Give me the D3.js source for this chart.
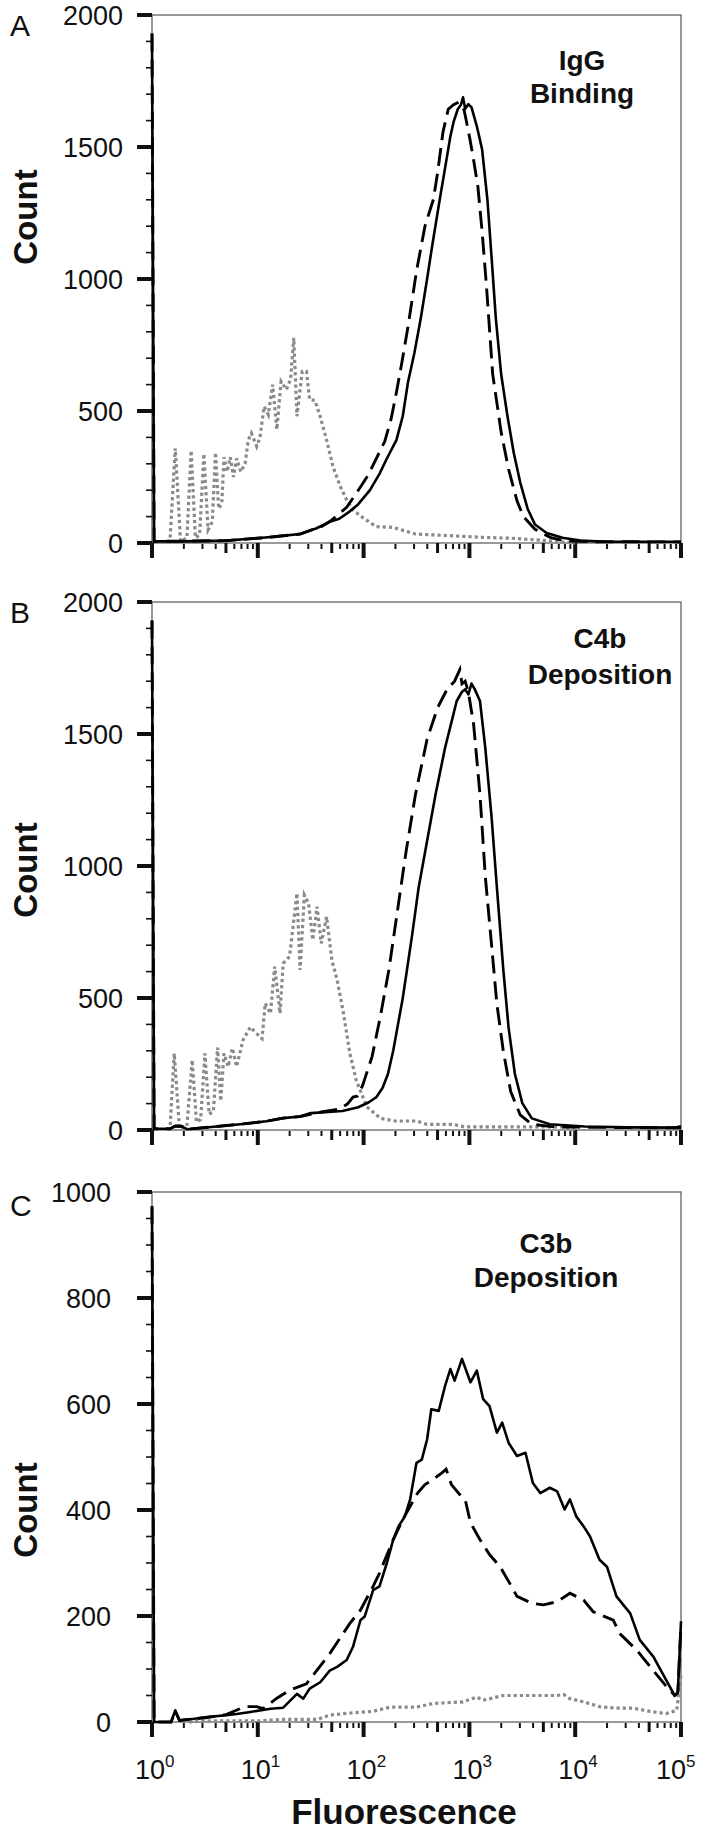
<!DOCTYPE html>
<html><head><meta charset="utf-8">
<script src="https://cdn.jsdelivr.net/npm/d3@7/dist/d3.min.js"></script>
<style>
body{margin:0;background:#fff}
svg{display:block}
text{font-family:"Liberation Sans",Arial,Helvetica,sans-serif;fill:#111}
</style>
</head><body>
<svg id="chart" width="704" height="1832"></svg>
<script>
// ---------- DATA (x = log10 fluorescence, y = count) ----------
const xDecades = [0, 1, 2, 3, 4, 5];
const yTicksAB = [0, 500, 1000, 1500, 2000];
const yTicksC = [0, 200, 400, 600, 800, 1000];
const panelLetters = ["A", "B", "C"];
const panelNotes = [["IgG", "Binding"], ["C4b", "Deposition"], ["C3b", "Deposition"]];

const aSolid = [[0,1930],[0.02,6],[0.3,6],[0.7,9],[1.07,21],[1.25,28],[1.40,34],[1.55,55],[1.68,80],[1.77,92],[1.87,120],[1.95,147],[2.06,200],[2.15,262],[2.22,320],[2.31,390],[2.37,480],[2.42,610],[2.48,720],[2.54,850],[2.60,1000],[2.65,1130],[2.72,1302],[2.77,1420],[2.82,1540],[2.85,1594],[2.89,1643],[2.92,1660],[2.94,1688],[2.96,1645],[2.99,1662],[3.02,1650],[3.07,1579],[3.12,1491],[3.17,1302],[3.21,1080],[3.25,850],[3.30,640],[3.36,480],[3.42,340],[3.48,230],[3.55,130],[3.62,70],[3.73,38],[3.88,20],[4.05,9],[4.3,5],[5.0,5]];
const aDashed = [[0,1930],[0.02,6],[0.7,9],[1.07,20],[1.40,34],[1.60,62],[1.69,84],[1.84,135],[1.95,200],[2.04,255],[2.12,320],[2.20,385],[2.26,470],[2.31,570],[2.36,680],[2.42,820],[2.50,1030],[2.58,1200],[2.66,1302],[2.70,1404],[2.75,1556],[2.80,1643],[2.85,1660],[2.90,1670],[2.95,1640],[3.00,1541],[3.04,1450],[3.08,1351],[3.12,1180],[3.16,980],[3.22,640],[3.30,420],[3.37,280],[3.45,160],[3.51,100],[3.62,52],[3.77,20],[3.9,8],[4.2,5],[5.0,4]];
const aDotted = [[0.15,0],[0.17,11],[0.22,359],[0.27,5],[0.33,20],[0.37,350],[0.41,20],[0.45,30],[0.49,338],[0.53,50],[0.57,80],[0.60,343],[0.63,130],[0.66,150],[0.68,325],[0.71,270],[0.74,325],[0.77,250],[0.80,320],[0.84,270],[0.88,300],[0.91,390],[0.94,416],[0.99,366],[1.02,400],[1.06,517],[1.10,486],[1.14,600],[1.18,430],[1.22,612],[1.27,581],[1.31,620],[1.34,777],[1.37,480],[1.42,650],[1.46,650],[1.49,543],[1.54,540],[1.59,479],[1.65,391],[1.71,290],[1.78,214],[1.84,163],[1.90,125],[2.00,94],[2.12,62],[2.28,59],[2.49,34],[2.8,28],[3.15,21],[3.4,18],[3.73,9],[3.9,3],[4.0,0]];

const bSolid = [[0,1930],[0.02,5],[0.17,5],[0.22,15],[0.28,14],[0.33,3],[0.61,13],[0.86,23],[1.08,33],[1.24,45],[1.40,51],[1.50,64],[1.80,72],[1.95,86],[2.05,105],[2.12,124],[2.18,160],[2.23,212],[2.28,300],[2.32,389],[2.37,499],[2.46,742],[2.52,918],[2.60,1095],[2.68,1271],[2.77,1448],[2.84,1560],[2.88,1625],[2.93,1660],[2.96,1669],[2.99,1650],[3.02,1691],[3.05,1670],[3.10,1625],[3.15,1448],[3.21,1183],[3.26,918],[3.32,609],[3.37,389],[3.43,212],[3.50,102],[3.59,44],[3.76,22],[4.09,13],[4.5,10],[4.95,9],[5.0,14]];
const bDashed = [[0,1930],[0.02,5],[0.17,5],[0.22,15],[0.28,14],[0.33,3],[0.61,13],[0.86,23],[1.08,33],[1.24,45],[1.40,51],[1.60,68],[1.78,80],[1.85,100],[1.90,125],[1.94,128],[1.99,168],[2.08,278],[2.16,433],[2.24,609],[2.32,830],[2.40,1051],[2.49,1271],[2.60,1480],[2.70,1600],[2.79,1670],[2.86,1700],[2.91,1744],[2.93,1690],[2.96,1700],[2.99,1660],[3.04,1536],[3.10,1271],[3.15,962],[3.21,698],[3.26,477],[3.32,300],[3.39,146],[3.48,57],[3.59,22],[3.8,12],[4.2,10],[5.0,8]];
const bDotted = [[0.15,0],[0.17,5],[0.21,290],[0.26,5],[0.33,15],[0.38,265],[0.42,30],[0.46,40],[0.50,290],[0.54,60],[0.58,70],[0.62,312],[0.65,110],[0.68,290],[0.72,240],[0.76,310],[0.80,240],[0.86,341],[0.93,390],[0.99,365],[1.04,346],[1.07,480],[1.12,442],[1.16,619],[1.21,442],[1.24,631],[1.30,657],[1.37,897],[1.40,606],[1.44,890],[1.48,858],[1.52,720],[1.56,846],[1.60,707],[1.65,808],[1.70,644],[1.75,568],[1.81,442],[1.87,290],[1.93,189],[2.03,88],[2.16,44],[2.3,34],[2.5,34],[2.6,21],[2.85,21],[2.95,12],[3.9,12],[4.0,2]];

const cSolid = [[0,973],[0.02,0],[0.18,0],[0.22,22],[0.26,3],[0.40,6],[0.5,9],[0.6,11],[0.7,13],[0.8,15],[0.93,19],[1.12,25],[1.24,27],[1.37,53],[1.43,44],[1.49,63],[1.59,75],[1.68,97],[1.75,104],[1.84,117],[1.90,142],[1.97,192],[2.01,199],[2.09,249],[2.15,256],[2.22,300],[2.28,344],[2.33,369],[2.39,388],[2.44,420],[2.50,489],[2.55,495],[2.60,533],[2.64,590],[2.71,587],[2.77,634],[2.82,666],[2.86,644],[2.93,685],[3.01,641],[3.07,663],[3.13,609],[3.19,596],[3.26,546],[3.31,565],[3.37,527],[3.45,502],[3.53,508],[3.60,451],[3.67,432],[3.76,442],[3.83,435],[3.90,401],[3.95,420],[4.01,388],[4.08,369],[4.14,350],[4.23,306],[4.30,293],[4.39,237],[4.52,205],[4.61,155],[4.74,123],[4.86,79],[4.94,50],[4.97,55],[5.0,190]];
const cDashed = [[0,973],[0.02,0],[0.18,0],[0.22,20],[0.26,3],[0.5,8],[0.7,14],[0.88,29],[0.99,29],[1.05,25],[1.18,45],[1.30,60],[1.46,72],[1.56,98],[1.68,129],[1.87,186],[1.97,211],[2.09,256],[2.15,281],[2.28,344],[2.37,382],[2.44,407],[2.51,432],[2.58,448],[2.66,458],[2.74,470],[2.78,477],[2.83,448],[2.91,429],[2.96,420],[3.01,376],[3.10,344],[3.19,316],[3.29,293],[3.38,262],[3.45,237],[3.59,224],[3.70,221],[3.83,227],[3.95,243],[4.08,230],[4.17,208],[4.36,192],[4.42,167],[4.58,136],[4.71,104],[4.85,70],[4.94,50],[4.97,55],[5.0,185]];
const cDotted = [[0.35,0],[0.5,2],[1.0,2],[1.24,5],[1.56,5],[1.68,13],[1.87,17],[2.09,20],[2.25,28],[2.50,28],[2.66,35],[2.94,38],[3.07,47],[3.13,41],[3.32,50],[3.83,50],[3.89,52],[3.95,44],[4.08,38],[4.23,29],[4.39,26],[4.55,26],[4.71,20],[4.86,16],[4.96,22],[5.0,90]];

// ---------- LAYOUT ----------
const svg = d3.select("#chart");
const X0 = 152, X1 = 681;
const x = d3.scaleLog().domain([1, 1e5]).range([X0, X1]);

const panels = [
  {letter: panelLetters[0], note: panelNotes[0], ticks: yTicksAB, minor: 100, solid: aSolid, dashed: aDashed, dotted: aDotted,
   top: 15, zero: 543, labelX: 123, letterY: 36, countY: 217, noteX: 582, noteY: [70, 103], xLabels: false},
  {letter: panelLetters[1], note: panelNotes[1], ticks: yTicksAB, minor: 100, solid: bSolid, dashed: bDashed, dotted: bDotted,
   top: 602, zero: 1130, labelX: 123, letterY: 623, countY: 870, noteX: 600, noteY: [648, 684], xLabels: false},
  {letter: panelLetters[2], note: panelNotes[2], ticks: yTicksC, minor: 50, solid: cSolid, dashed: cDashed, dotted: cDotted,
   top: 1192, zero: 1722, labelX: 111, letterY: 1216, countY: 1510, noteX: 546, noteY: [1253, 1287], xLabels: true}
];

const mantissa = d => Math.round(d / Math.pow(10, Math.floor(Math.log10(d) + 1e-9)));

panels.forEach(p => {
  const yMax = d3.max(p.ticks);
  const y = d3.scaleLinear().domain([0, yMax]).range([p.zero, p.top]);
  const g = svg.append("g");

  // frame
  g.append("rect").attr("x", X0).attr("y", p.top).attr("width", X1 - X0).attr("height", p.zero - p.top)
    .attr("fill", "none").attr("stroke", "#555").attr("stroke-width", 1.2);

  // y minor ticks
  g.selectAll(".ymin").data(d3.range(0, yMax + 1, p.minor).filter(v => !p.ticks.includes(v))).join("line")
    .attr("x1", X0 - 6).attr("x2", X0).attr("y1", d => y(d)).attr("y2", d => y(d))
    .attr("stroke", "#111").attr("stroke-width", 1.6);
  // y major ticks
  g.selectAll(".ymaj").data(p.ticks).join("line")
    .attr("x1", X0 - 15).attr("x2", X0).attr("y1", d => y(d)).attr("y2", d => y(d))
    .attr("stroke", "#111").attr("stroke-width", 4);
  g.selectAll(".ylab").data(p.ticks).join("text")
    .attr("x", p.labelX).attr("y", d => y(d)).attr("dy", "0.36em")
    .attr("text-anchor", "end").attr("font-size", 27).text(d => d);

  // x ticks
  g.selectAll(".xt").data(x.ticks()).join("line")
    .attr("x1", d => x(d)).attr("x2", d => x(d))
    .attr("y1", d => { const m = mantissa(d); return m === 1 || m === 5 ? p.zero : p.zero + 1; })
    .attr("y2", d => { const m = mantissa(d); return p.zero + (m === 1 ? 15 : m === 5 ? 10 : 6); })
    .attr("stroke", "#111")
    .attr("stroke-width", d => { const m = mantissa(d); return m === 1 ? 4 : m === 5 ? 3 : 2; });

  // data lines
  const line = d3.line().x(d => x(Math.pow(10, d[0]))).y(d => y(d[1]));
  g.append("path").attr("d", line(p.dotted)).attr("fill", "none")
    .attr("stroke", "#8a8a8a").attr("stroke-width", 3.2).attr("stroke-dasharray", "3.2 3");
  g.append("path").attr("d", line(p.dashed)).attr("fill", "none")
    .attr("stroke", "#000").attr("stroke-width", 2.9).attr("stroke-dasharray", "18 8");
  g.append("path").attr("d", line(p.solid)).attr("fill", "none")
    .attr("stroke", "#000").attr("stroke-width", 2.6).attr("stroke-linejoin", "round");

  // panel letter
  g.append("text").attr("x", 10).attr("y", p.letterY).attr("font-size", 30).text(p.letter);
  // Count label
  g.append("text").attr("transform", `translate(37,${p.countY}) rotate(-90)`)
    .attr("text-anchor", "middle").attr("font-size", 33).attr("font-weight", "bold").text("Count");
  // annotation
  p.note.forEach((t, i) => {
    g.append("text").attr("x", p.noteX).attr("y", p.noteY[i]).attr("text-anchor", "middle")
      .attr("font-size", 28).attr("font-weight", "bold").text(t);
  });

  if (p.xLabels) {
    xDecades.forEach(e => {
      const tx = x(Math.pow(10, e));
      const off = e === 5 ? -25 : -17;
      const t = g.append("text").attr("x", tx + off).attr("y", p.zero + 57).attr("font-size", 27);
      t.append("tspan").text("10");
      t.append("tspan").attr("font-size", 17).attr("dy", -12).text(e);
    });
  }
});

svg.append("text").attr("x", 404).attr("y", 1824).attr("text-anchor", "middle")
  .attr("font-size", 35).attr("font-weight", "bold").text("Fluorescence");
</script>
</body></html>
